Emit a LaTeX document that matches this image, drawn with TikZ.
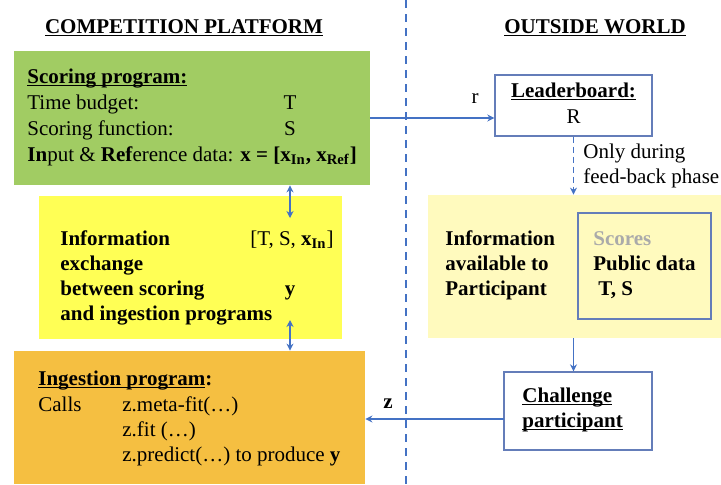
\documentclass[tikz,border=0pt]{standalone}
\usepackage{fontspec}
\setmainfont{Liberation Serif}
\usetikzlibrary{arrows.meta}
\definecolor{scoregreen}{RGB}{161,204,99}
\definecolor{xchgyellow}{RGB}{255,255,85}
\definecolor{paleyellow}{RGB}{255,250,190}
\definecolor{ingorange}{RGB}{245,191,65}
\definecolor{lineblue}{RGB}{68,114,196}
\definecolor{frameblue}{RGB}{100,125,185}
\definecolor{scoregray}{RGB}{170,170,170}
\newcommand{\undl}[1]{\setbox0\hbox{#1}\rlap{\rule[-1.6pt]{\wd0}{0.7pt}}\box0}

\begin{document}
\begin{tikzpicture}[
  x=0.5pt, y=-0.5pt,
  every node/.style = {font=\fontsize{10.5}{12.5}\selectfont},
  prog/.style  = {rectangle, inner sep=0pt, draw=none},
  frame/.style = {rectangle, inner sep=0pt, draw=frameblue, line width=0.7pt},
  txt/.style   = {inner sep=0pt, anchor=base west},
  ctxt/.style  = {inner sep=0pt, anchor=base},
  arr/.style   = {-{Stealth[length=3.5pt, width=3.5pt]}, draw=lineblue, line width=0.8pt},
  darr/.style  = {{Stealth[length=3.5pt, width=3.5pt]}-{Stealth[length=3.5pt, width=3.5pt]},
                  draw=lineblue, line width=0.8pt},
]
\useasboundingbox (0,0) rectangle (721,484);

% ── Boxes ────────────────────────────────────────────────────────────────────
\node[prog, fill=scoregreen, minimum width=178pt, minimum height=67pt]   (score)  at (192,118)   {};
\node[prog, fill=xchgyellow, minimum width=151.5pt, minimum height=71.5pt] (xchg) at (190.5,267.5) {};
\node[prog, fill=ingorange, minimum width=175.5pt, minimum height=66.5pt] (ingest) at (189.5,417.5) {};
\node[prog, fill=paleyellow, minimum width=146.5pt, minimum height=71.5pt] (avail) at (574.5,266.5) {};
\node[frame, minimum width=66.5pt, minimum height=53pt]                   (pub)    at (644.5,266)   {};
\node[frame, fill=white, minimum width=78.5pt, minimum height=30.5pt]     (lboard) at (573.5,105.5) {};
\node[frame, fill=white, minimum width=74pt, minimum height=39pt]         (chal)   at (578,411)     {};

% ── Divider ──────────────────────────────────────────────────────────────────
\coordinate (top) at (406,0);
\coordinate (bot) at (406,484);
\draw[lineblue, line width=1pt, dash pattern=on 4pt off 3pt] (top) -- (bot);

% ── Headings ─────────────────────────────────────────────────────────────────
\node[ctxt] (hplat)  at (184,33) {\textbf{\undl{COMPETITION PLATFORM}}};
\node[ctxt] (hworld) at (595,33) {\textbf{\undl{OUTSIDE WORLD}}};

% ── Scoring program ──────────────────────────────────────────────────────────
\node[txt] (s1) at (27,83)  {\textbf{\undl{Scoring program:}}};
\node[txt] (s2) at (27,109) {Time budget:};
\node[txt] (s3) at (27,135) {Scoring function:};
\node[txt] (s4) at (27,161) {\textbf{In}put \& \textbf{Ref}erence data: \textbf{x = [x\textsubscript{In}, x\textsubscript{Ref}]}};
\node[ctxt] (sT) at (290,109) {T};
\node[ctxt] (sS) at (290,135) {S};

% ── Information exchange ─────────────────────────────────────────────────────
\node[txt] (x1) at (60,245) {\textbf{Information}};
\node[txt] (x2) at (60,270) {\textbf{exchange}};
\node[txt] (x3) at (60,295) {\textbf{between scoring}};
\node[txt] (x4) at (60,320) {\textbf{and ingestion programs}};
\node[inner sep=0pt, anchor=base east] (xa) at (334,245) {[T, S, \textbf{x\textsubscript{In}}]};
\node[ctxt] (xy) at (290,295) {\textbf{y}};

% ── Ingestion program ────────────────────────────────────────────────────────
\node[txt] (i1) at (38,385)  {\textbf{\undl{Ingestion program}:}};
\node[txt] (i2) at (38,411)  {Calls};
\node[txt] (i3) at (122,411) {z.meta-fit(…)};
\node[txt] (i4) at (122,436) {z.fit (…)};
\node[txt] (i5) at (122,461) {z.predict(…) to produce \textbf{y}};

% ── Outside world ────────────────────────────────────────────────────────────
\node[ctxt] (l1) at (573.5,97)  {\textbf{\undl{Leaderboard:}}};
\node[ctxt] (l2) at (573.5,123) {R};
\node[ctxt] (rl) at (475,103)   {r};
\node[txt]  (o1) at (583,158)   {Only during};
\node[txt]  (o2) at (583,183)   {feed-back phase};

\node[txt] (a1) at (445,245) {\textbf{Information}};
\node[txt] (a2) at (445,270) {\textbf{available to}};
\node[txt] (a3) at (445,295) {\textbf{Participant}};
\node[txt] (p1) at (593,245) {\textcolor{scoregray}{\textbf{Scores}}};
\node[txt] (p2) at (593,270) {\textbf{Public data}};
\node[txt] (p3) at (598,295) {\textbf{T, S}};

\node[txt] (c1) at (522,402) {\textbf{\undl{Challenge}}};
\node[txt] (c2) at (522,427) {\textbf{\undl{participant}}};
\node[ctxt] (zl) at (388,408) {\textbf{z}};

% ── Connectors ───────────────────────────────────────────────────────────────
\coordinate (xtop) at (290,218);
\coordinate (xbot) at (290,320);
\coordinate (zc)   at (504,419);

\draw[arr] (score.east) -- (score.east -| lboard.west);
\draw[arr, dash pattern=on 3pt off 2pt] (lboard.south) -- (lboard.south |- avail.north);
\draw[arr] (avail.south -| lboard.south) -- (chal.north -| lboard.south);
\draw[arr] (zc) -- (zc -| ingest.east);
\draw[darr] (score.south -| xtop) -- (xtop);
\draw[darr] (xbot) -- (ingest.north -| xbot);

\end{tikzpicture}
\end{document}
